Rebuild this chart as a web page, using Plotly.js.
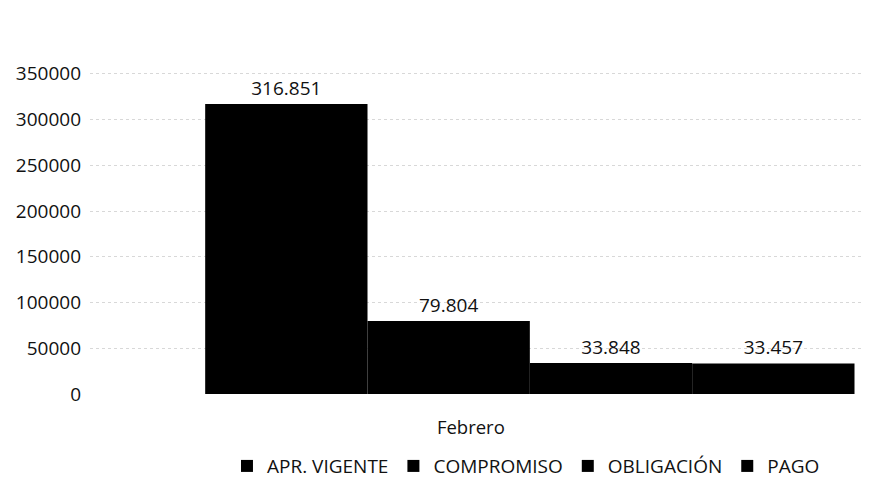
<!DOCTYPE html>
<html>
<head>
<meta charset="utf-8">
<script src="https://cdn.plot.ly/plotly-3.0.1.min.js"></script>
<style>html,body{margin:0;padding:0;background:#fff;}#chart{width:873px;height:493px;}</style>
</head>
<body>
<div id="chart"></div>
<script>
var categories = ["Febrero"];
var seriesNames = ["APR. VIGENTE", "COMPROMISO", "OBLIGACIÓN", "PAGO"];
var aprVigente = [316851];
var compromiso = [79804];
var obligacion = [33848];
var pago = [33457];
var yTickVals = [0, 50000, 100000, 150000, 200000, 250000, 300000, 350000];

var seriesValues = [aprVigente, compromiso, obligacion, pago];
var FONT = "'Open Sans', 'Noto Sans', sans-serif";
var traces = seriesNames.map(function (name, i) {
  return {
    type: "bar",
    name: name,
    x: categories,
    y: seriesValues[i],
    marker: { color: "#000000", line: { width: 0 } },
    texttemplate: "%{y:,d}",
    textposition: "outside",
    cliponaxis: false,
    textfont: { family: FONT, size: 19, color: "#111" },
    hoverinfo: "name+y"
  };
});

var layout = {
  width: 873,
  height: 493,
  margin: { l: 90, r: 10, t: 28, b: 99, autoexpand: false },
  paper_bgcolor: "#ffffff",
  plot_bgcolor: "#ffffff",
  separators: ",.",
  barmode: "group",
  bargap: 0.16,
  bargroupgap: 0,
  font: { family: FONT, color: "#111" },
  xaxis: {
    type: "category",
    range: [-0.569, 0.431],
    showline: false,
    showgrid: false,
    zeroline: false,
    ticks: "",
    ticklabelshift: -59,
    ticklabelstandoff: 20,
    tickfont: { size: 18.5, color: "#111" }
  },
  yaxis: {
    range: [0, 400000],
    tickvals: yTickVals,
    tickformat: "d",
    showline: false,
    zeroline: false,
    showgrid: true,
    gridcolor: "#d8d8d8",
    griddash: "dot",
    gridwidth: 1,
    ticks: "",
    ticklabelstandoff: 8,
    tickfont: { size: 19, color: "#111" }
  },
  showlegend: true,
  legend: {
    orientation: "h",
    x: 0.564,
    xanchor: "center",
    y: -0.145,
    yanchor: "top",
    font: { size: 19, color: "#111" },
    itemwidth: 30,
    traceorder: "normal"
  }
};

Plotly.newPlot("chart", traces, layout, { displayModeBar: false, staticPlot: true });
</script>
</body>
</html>
